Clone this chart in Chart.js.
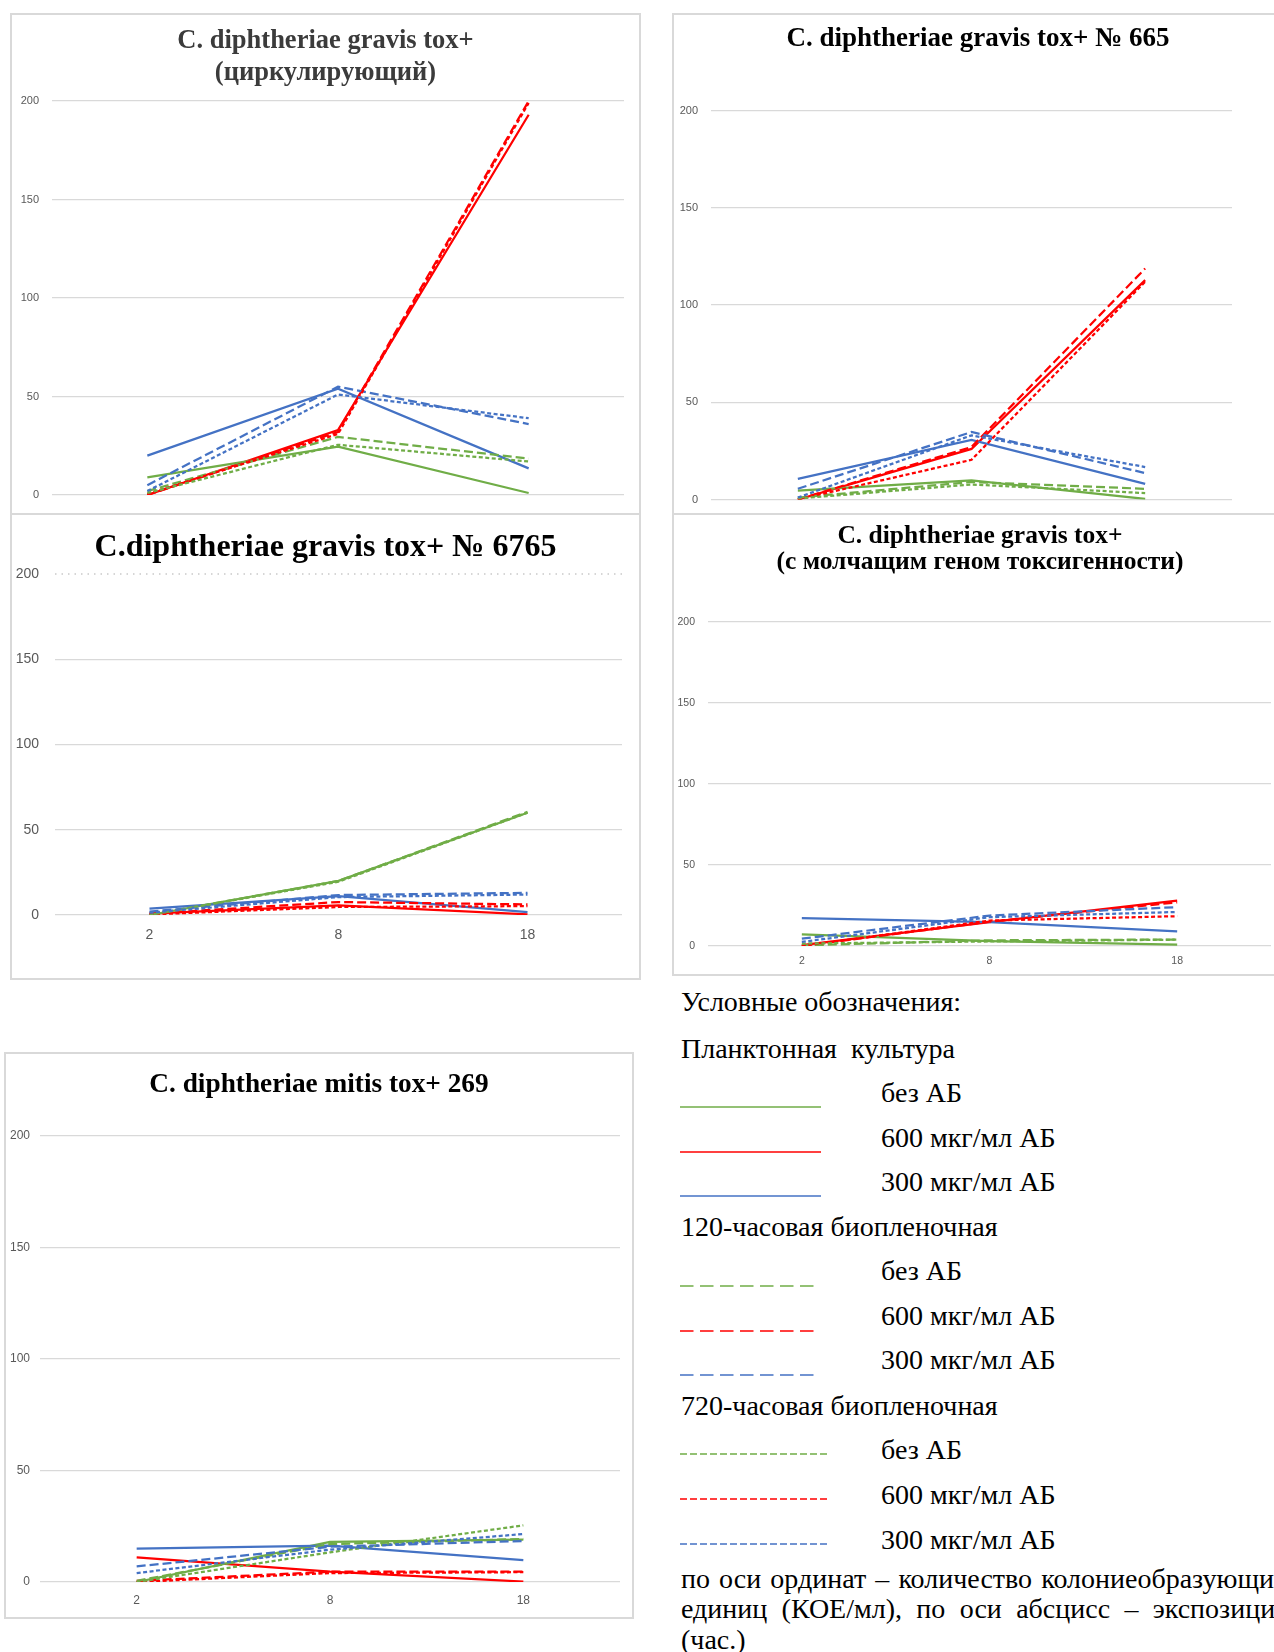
<!DOCTYPE html>
<html lang="ru">
<head>
<meta charset="utf-8">
<title>Динамика КОЕ C. diphtheriae</title>
<script src="https://cdn.jsdelivr.net/npm/chart.js@4.4.1/dist/chart.umd.min.js"></script>
<style>
  html, body { margin: 0; padding: 0; background: #fff; }
  body { width: 1274px; height: 1652px; position: relative; overflow: hidden; font-family: "Liberation Serif", "Times New Roman", serif; }
  .panel { position: absolute; box-sizing: border-box; border: 2px solid #d9d9d9; background: #fff; overflow: hidden; }
  .panel canvas { position: absolute; left: 0; top: 0; }
  .ttl { position: absolute; left: 0; right: 0; text-align: center; font-family: "Liberation Serif", "Times New Roman", serif; font-weight: bold; white-space: nowrap; line-height: 1.1; transform: translateY(-50%); }
  .lg { position: absolute; font-size: 28px; line-height: 1; color: #000; white-space: nowrap; transform: translateY(-50%); }
  .just { position: absolute; font-size: 28px; line-height: 1; color: #000; text-align: justify; text-align-last: justify; white-space: normal; transform: translateY(-50%); }
  #legendLines { position: absolute; left: 0; top: 0; }
</style>
</head>
<body>

<script>
// Exposure time, hours
const hours = ['2', '8', '18'];
const yMin = 0, yMax = 200, yStep = 50;

// C. diphtheriae gravis tox+ (циркулирующий), КОЕ/мл
const circPlankNoAB = [9, 24.5, 1];
const circPlank600  = [0, 33, 193];
const circPlank300  = [20, 54, 13.5];
const circB120NoAB  = [2, 29.5, 18.5];
const circB120_600  = [0, 32, 200];
const circB120_300  = [5, 55, 36];
const circB720NoAB  = [1, 25.5, 17];
const circB720_600  = [0.5, 31, 199];
const circB720_300  = [2, 51, 39];

// C. diphtheriae gravis tox+ № 665
const s665PlankNoAB = [4.6, 9.8, 0.3];
const s665Plank600  = [0, 26, 112.8];
const s665Plank300  = [10.6, 30.7, 8];
const s665B120NoAB  = [1, 9, 5.5];
const s665B120_600  = [0, 27, 118.8];
const s665B120_300  = [5.5, 34.7, 13.6];
const s665B720NoAB  = [0.5, 7.7, 3.3];
const s665B720_600  = [0, 20.4, 112];
const s665B720_300  = [1, 33, 16.7];

// C.diphtheriae gravis tox+ № 6765
const s6765PlankNoAB = [0, 20, 60];
const s6765Plank600  = [0.8, 5.6, 0.4];
const s6765Plank300  = [3.7, 11, 1.7];
const s6765B120NoAB  = [0, 20, 60.5];
const s6765B120_600  = [0.8, 7.6, 6.2];
const s6765B120_300  = [2, 11.7, 13];
const s6765B720NoAB  = [0, 19.5, 60];
const s6765B720_600  = [0.3, 4.7, 5.2];
const s6765B720_300  = [1.4, 10.5, 12];

// C. diphtheriae gravis tox+ (с молчащим геном токсигенности)
const silentPlankNoAB = [7.2, 3, 0.8];
const silentPlank600  = [0.5, 14.7, 28];
const silentPlank300  = [17.2, 14.7, 9];
const silentB120NoAB  = [0.4, 3.5, 4];
const silentB120_600  = [0, 15, 27];
const silentB120_300  = [4.5, 18.8, 24];
const silentB720NoAB  = [1.5, 2.8, 3.9];
const silentB720_600  = [0, 15.7, 18.4];
const silentB720_300  = [2.5, 17.8, 21];

// C. diphtheriae mitis tox+ 269
const mitisPlankNoAB = [0, 18, 19];
const mitisPlank600  = [11, 4.6, 0.2];
const mitisPlank300  = [15, 16.3, 9.8];
const mitisB120NoAB  = [0.5, 17, 19.3];
const mitisB120_600  = [0.5, 4.6, 4.6];
const mitisB120_300  = [7, 15.8, 18.4];
const mitisB720NoAB  = [0, 13.3, 25.4];
const mitisB720_600  = [0, 4, 4.4];
const mitisB720_300  = [4, 14.5, 21.5];
</script>

<script>
const GREEN = '#70ad47', RED = '#ff0000', BLUE = '#4472c4';
const DASH_120 = [9, 4];
const DASH_720 = [4, 2.5];

// Regime order: 720-h biofilm, 120-h biofilm, planktonic (planktonic drawn on top)
function seriesSet(p) {
  return [
    { data: p.b720_300, color: BLUE,  dash: DASH_720 },
    { data: p.b720NoAB, color: GREEN, dash: DASH_720 },
    { data: p.b720_600, color: RED,   dash: DASH_720 },
    { data: p.b120_300, color: BLUE,  dash: DASH_120 },
    { data: p.b120NoAB, color: GREEN, dash: DASH_120 },
    { data: p.b120_600, color: RED,   dash: DASH_120 },
    { data: p.plank300, color: BLUE,  dash: [] },
    { data: p.plankNoAB, color: GREEN, dash: [] },
    { data: p.plank600, color: RED,   dash: [] }
  ];
}

const panels = [
  {
    id: 'p1', box: { l: 10, t: 13, w: 631, h: 560 }, area: { l: 52, r: 624, t: 101, b: 495 },
    tick: 11, yPad: 13, xPad: 30,
    title: [{ text: 'C. diphtheriae gravis tox+', y: 40 }, { text: '(циркулирующий)', y: 72 }], titleSize: 26.5, titleColor: '#3b3b3b',
    series: { plankNoAB: circPlankNoAB, plank600: circPlank600, plank300: circPlank300,
              b120NoAB: circB120NoAB, b120_600: circB120_600, b120_300: circB120_300,
              b720NoAB: circB720NoAB, b720_600: circB720_600, b720_300: circB720_300 }
  },
  {
    id: 'p2', box: { l: 672, t: 13, w: 612, h: 560 }, area: { l: 711, r: 1232, t: 110.6, b: 499.5 },
    tick: 11, yPad: 13, xPad: 30,
    title: [{ text: 'C. diphtheriae gravis tox+ № 665', y: 38 }], titleSize: 27, titleColor: '#000',
    series: { plankNoAB: s665PlankNoAB, plank600: s665Plank600, plank300: s665Plank300,
              b120NoAB: s665B120NoAB, b120_600: s665B120_600, b120_300: s665B120_300,
              b720NoAB: s665B720NoAB, b720_600: s665B720_600, b720_300: s665B720_300 }
  },
  {
    id: 'p3', box: { l: 10, t: 513, w: 631, h: 467 }, area: { l: 55, r: 622, t: 574, b: 915 },
    tick: 14, yPad: 16, xPad: 12, dottedTop: true,
    title: [{ text: 'C.diphtheriae gravis tox+ № 6765', y: 546 }], titleSize: 32, titleColor: '#000',
    series: { plankNoAB: s6765PlankNoAB, plank600: s6765Plank600, plank300: s6765Plank300,
              b120NoAB: s6765B120NoAB, b120_600: s6765B120_600, b120_300: s6765B120_300,
              b720NoAB: s6765B720NoAB, b720_600: s6765B720_600, b720_300: s6765B720_300 }
  },
  {
    id: 'p4', box: { l: 672, t: 513, w: 616, h: 463 }, area: { l: 708, r: 1271, t: 622, b: 946 },
    tick: 10.5, yPad: 13, xPad: 9,
    title: [{ text: 'C. diphtheriae gravis tox+', y: 535 }, { text: '(с молчащим геном токсигенности)', y: 561 }], titleSize: 25.5, titleColor: '#000',
    series: { plankNoAB: silentPlankNoAB, plank600: silentPlank600, plank300: silentPlank300,
              b120NoAB: silentB120NoAB, b120_600: silentB120_600, b120_300: silentB120_300,
              b720NoAB: silentB720NoAB, b720_600: silentB720_600, b720_300: silentB720_300 }
  },
  {
    id: 'p5', box: { l: 4, t: 1052, w: 630, h: 567 }, area: { l: 40, r: 620, t: 1136, b: 1582 },
    tick: 12, yPad: 10, xPad: 11,
    title: [{ text: 'C. diphtheriae mitis tox+ 269', y: 1083 }], titleSize: 27.3, titleColor: '#000',
    series: { plankNoAB: mitisPlankNoAB, plank600: mitisPlank600, plank300: mitisPlank300,
              b120NoAB: mitisB120NoAB, b120_600: mitisB120_600, b120_300: mitisB120_300,
              b720NoAB: mitisB720NoAB, b720_600: mitisB720_600, b720_300: mitisB720_300 }
  }
];

// Dotted line for the top gridline in one panel
const dottedTopLine = {
  id: 'dottedTopLine',
  beforeDatasetsDraw(chart, args, opts) {
    if (!opts || !opts.enabled) return;
    const y = chart.scales.y.getPixelForValue(yMax);
    const { left, right } = chart.chartArea;
    const ctx = chart.ctx;
    ctx.save();
    ctx.strokeStyle = '#c9c9c9';
    ctx.lineWidth = 1.3;
    ctx.setLineDash([1.5, 5]);
    ctx.beginPath();
    ctx.moveTo(left, y);
    ctx.lineTo(right, y);
    ctx.stroke();
    ctx.restore();
  }
};

const BW = 2;
panels.forEach(p => {
  const div = document.createElement('div');
  div.className = 'panel';
  Object.assign(div.style, { left: p.box.l + 'px', top: p.box.t + 'px', width: p.box.w + 'px', height: p.box.h + 'px' });
  document.body.appendChild(div);

  const ox = p.box.l + BW, oy = p.box.t + BW;
  const iw = p.box.w - 2 * BW, ih = p.box.h - 2 * BW;

  const cv = document.createElement('canvas');
  cv.width = iw; cv.height = ih;
  cv.style.width = iw + 'px'; cv.style.height = ih + 'px';
  div.appendChild(cv);

  p.title.forEach(t => {
    const d = document.createElement('div');
    d.className = 'ttl';
    d.textContent = t.text;
    d.style.top = (t.y - oy) + 'px';
    d.style.fontSize = p.titleSize + 'px';
    d.style.color = p.titleColor;
    div.appendChild(d);
  });

  const yW = p.area.l - ox;
  const xH = ih - (p.area.b - oy);
  const tickFont = { family: '"Liberation Sans", Arial, sans-serif', size: p.tick };

  new Chart(cv, {
    type: 'line',
    data: {
      labels: hours,
      datasets: seriesSet(p.series).map(s => ({
        data: s.data,
        borderColor: s.color,
        backgroundColor: s.color,
        borderWidth: 2.25,
        borderDash: s.dash,
        pointRadius: 0,
        pointHoverRadius: 0,
        tension: 0,
        fill: false
      }))
    },
    options: {
      responsive: false,
      animation: false,
      devicePixelRatio: 1,
      events: [],
      layout: { padding: { top: p.area.t - oy, left: 0, bottom: 0, right: iw - (p.area.r - ox) } },
      plugins: {
        legend: { display: false },
        title: { display: false },
        tooltip: { enabled: false },
        dottedTopLine: { enabled: !!p.dottedTop }
      },
      scales: {
        x: {
          offset: true,
          grid: { display: false, drawTicks: false },
          border: { display: false },
          ticks: { color: '#595959', font: tickFont, padding: p.xPad, maxRotation: 0 },
          afterFit(s) { s.height = xH; }
        },
        y: {
          min: yMin, max: yMax,
          grid: {
            drawTicks: false,
            color: ctx => (p.dottedTop && ctx.tick && ctx.tick.value === yMax) ? 'rgba(0,0,0,0)' : '#d9d9d9',
            lineWidth: 1.3
          },
          border: { display: false },
          ticks: { stepSize: yStep, color: '#595959', font: tickFont, padding: p.yPad },
          afterFit(s) { s.width = yW; }
        }
      }
    },
    plugins: [dottedTopLine]
  });
});
</script>

<!-- Legend -->
<div class="lg" style="left:681px; top:1002px;">Условные обозначения:</div>
<div class="lg" style="left:681px; top:1049px;">Планктонная&nbsp; культура</div>
<div class="lg" style="left:881px; top:1093px;">без АБ</div>
<div class="lg" style="left:881px; top:1138px;">600 мкг/мл АБ</div>
<div class="lg" style="left:881px; top:1182px;">300 мкг/мл АБ</div>
<div class="lg" style="left:681px; top:1227px;">120-часовая биопленочная</div>
<div class="lg" style="left:881px; top:1271px;">без АБ</div>
<div class="lg" style="left:881px; top:1316px;">600 мкг/мл АБ</div>
<div class="lg" style="left:881px; top:1360px;">300 мкг/мл АБ</div>
<div class="lg" style="left:681px; top:1406px;">720-часовая биопленочная</div>
<div class="lg" style="left:881px; top:1450px;">без АБ</div>
<div class="lg" style="left:881px; top:1495px;">600 мкг/мл АБ</div>
<div class="lg" style="left:881px; top:1540px;">300 мкг/мл АБ</div>
<div class="just" style="left:681px; top:1579px; width:607px;">по оси ординат – количество колониеобразующих</div>
<div class="just" style="left:681px; top:1609px; width:607px;">единиц (КОЕ/мл), по оси абсцисс – экспозиция</div>
<div class="lg" style="left:681px; top:1640px;">(час.)</div>

<svg id="legendLines" width="1274" height="1652" xmlns="http://www.w3.org/2000/svg">
  <g stroke-width="1.4" fill="none">
    <line x1="680" y1="1107" x2="821" y2="1107" stroke="#70ad47"/>
    <line x1="680" y1="1152" x2="821" y2="1152" stroke="#ff0000"/>
    <line x1="680" y1="1196" x2="821" y2="1196" stroke="#4472c4"/>
    <line x1="680" y1="1286" x2="818" y2="1286" stroke="#70ad47" stroke-dasharray="13.5 6.5"/>
    <line x1="680" y1="1331" x2="818" y2="1331" stroke="#ff0000" stroke-dasharray="13.5 6.5"/>
    <line x1="680" y1="1375" x2="818" y2="1375" stroke="#4472c4" stroke-dasharray="13.5 6.5"/>
    <line x1="680" y1="1454" x2="829" y2="1454" stroke="#70ad47" stroke-dasharray="7 3"/>
    <line x1="680" y1="1499" x2="829" y2="1499" stroke="#ff0000" stroke-dasharray="7 3"/>
    <line x1="680" y1="1544" x2="829" y2="1544" stroke="#4472c4" stroke-dasharray="7 3"/>
  </g>
</svg>
</body>
</html>
